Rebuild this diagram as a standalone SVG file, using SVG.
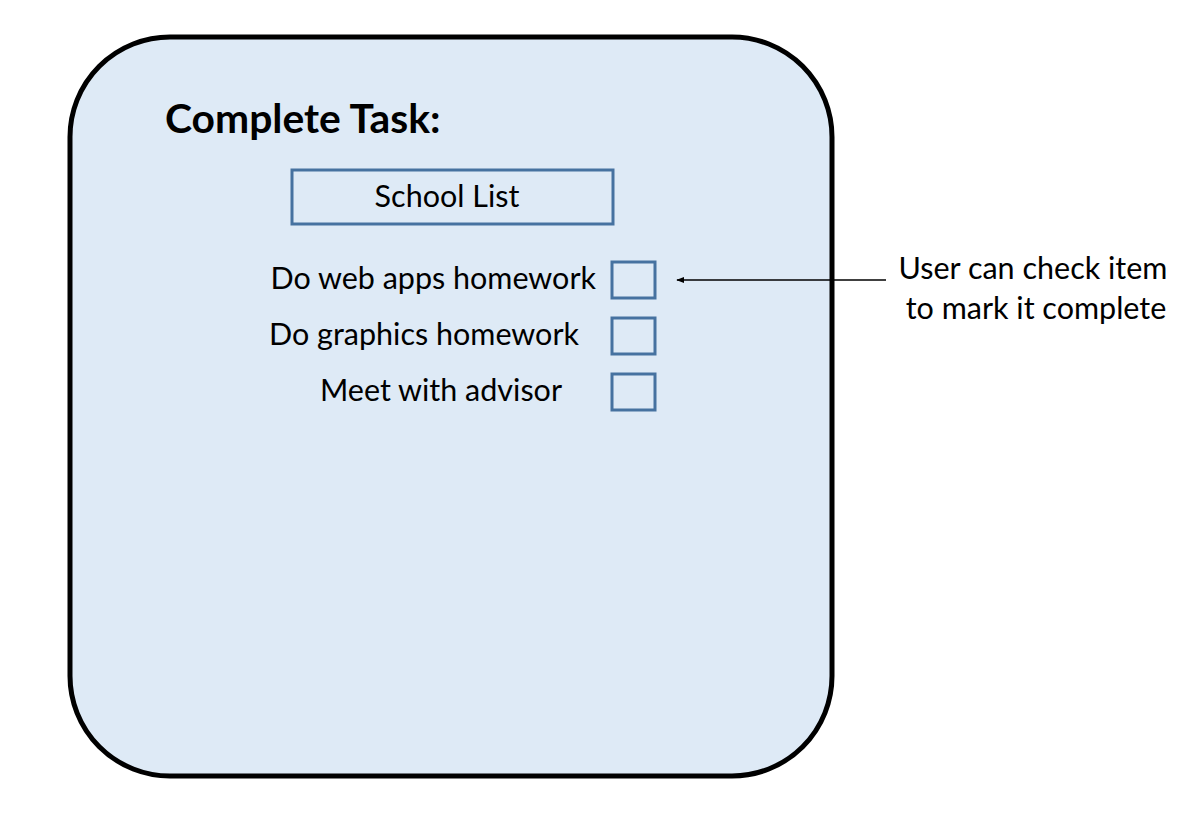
<svg xmlns="http://www.w3.org/2000/svg" width="1204" height="830" viewBox="0 0 1204 830">
<style>
text{font-family:Lato,"Open Sans","Liberation Sans",sans-serif;fill:#000}
.t{font-size:30.5px}
.box{fill:none;stroke:#4672A0;stroke-width:3}
</style>
<defs>
<marker id="ah" viewBox="0 0 10 10" refX="9" refY="5" markerWidth="8" markerHeight="8" markerUnits="userSpaceOnUse" orient="auto">
<path d="M0,1 L10,5 L0,9 z" fill="#000"/>
</marker>
</defs>
<rect width="1204" height="830" fill="#fff"/>
<g id="panel">
<rect x="70" y="37" width="762" height="739" rx="100" ry="100" fill="#DEEAF6" stroke="#000" stroke-width="5"/>
<text x="165" y="133" font-size="40.8" font-weight="bold">Complete Task:</text>
</g>
<g id="school-list">
<rect class="box" x="292" y="170" width="321" height="54"/>
<text class="t" x="447" y="207" text-anchor="middle">School List</text>
</g>
<g id="item1">
<text class="t" x="596" y="289" text-anchor="end">Do web apps homework</text>
<rect class="box" x="612" y="262" width="43" height="36"/>
</g>
<g id="item2">
<text class="t" x="579" y="345" text-anchor="end">Do graphics homework</text>
<rect class="box" x="612" y="318" width="43" height="36"/>
</g>
<g id="item3">
<text class="t" x="562" y="401" text-anchor="end">Meet with advisor</text>
<rect class="box" x="612" y="374" width="43" height="36"/>
</g>
<g id="note">
<text class="t" x="1033" y="279" text-anchor="middle">User can check item</text>
<text class="t" x="1036" y="319" text-anchor="middle">to mark it complete</text>
</g>
<g id="connectors">
<line x1="886" y1="280" x2="677" y2="280" stroke="#000" stroke-width="1.5" marker-end="url(#ah)"/>
</g>
</svg>
